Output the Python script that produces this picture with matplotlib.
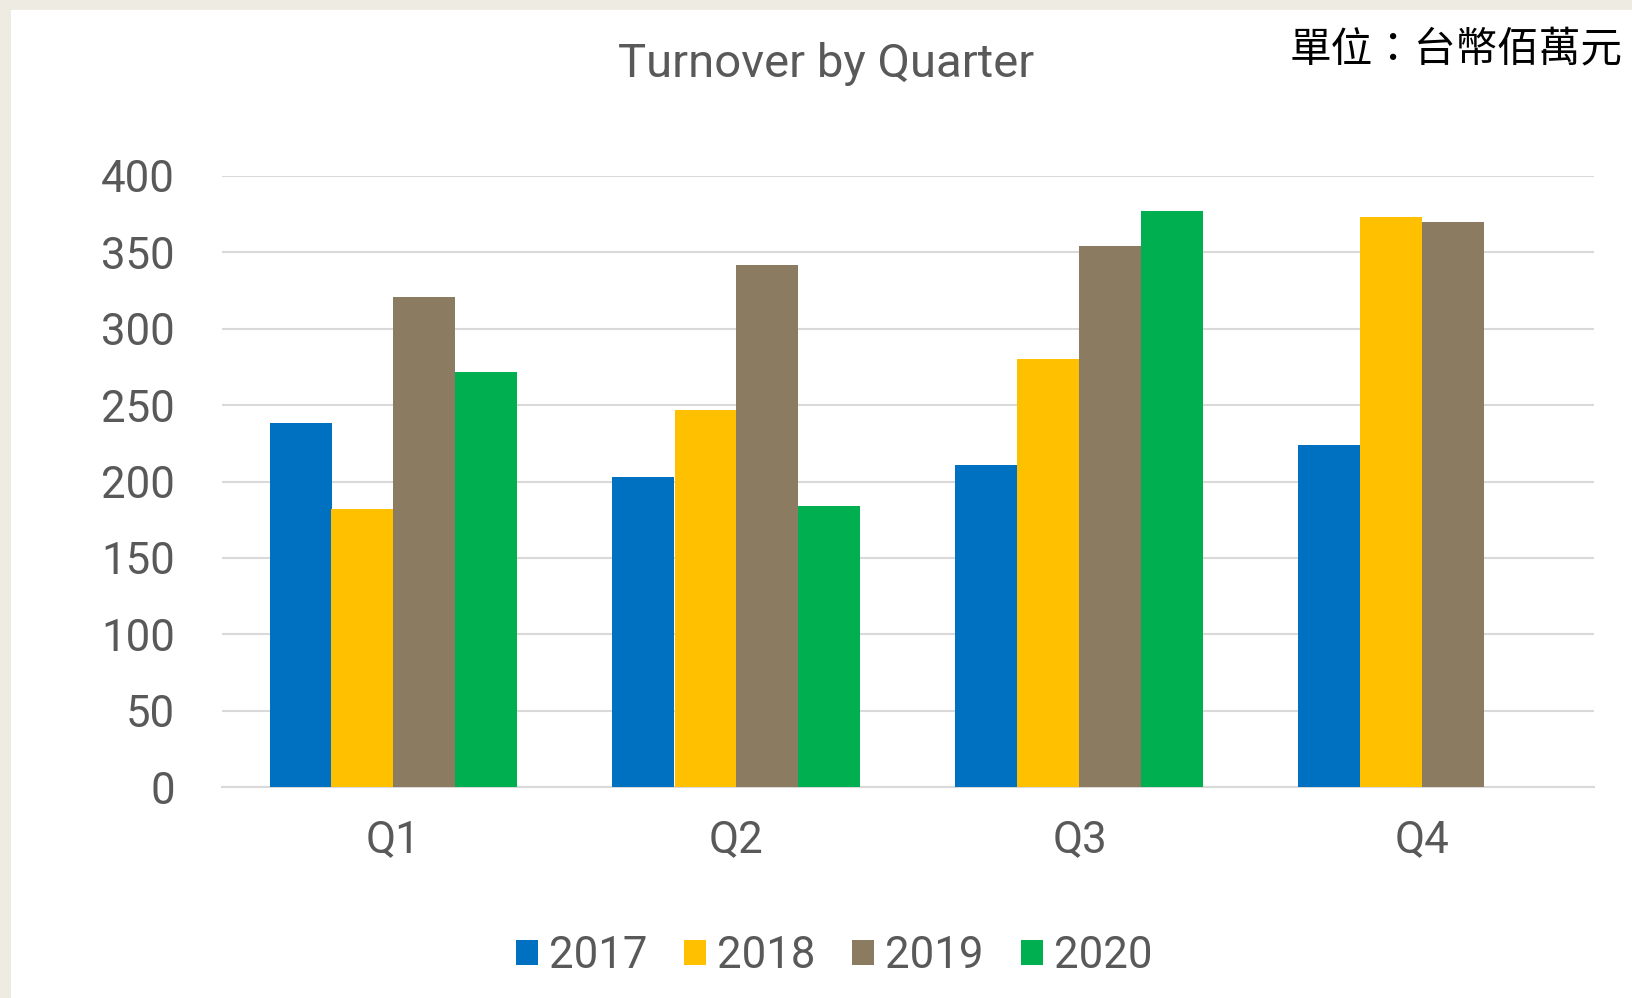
import numpy as np
import matplotlib
matplotlib.use("Agg")
import matplotlib.pyplot as plt
from matplotlib.patches import Rectangle

# values (NT$ million)
quarters = ["Q1", "Q2", "Q3", "Q4"]
years = ["2017", "2018", "2019", "2020"]
v2017 = [238, 203, 211, 224]
v2018 = [182, 247, 280, 373]
v2019 = [321, 342, 354, 370]
v2020 = [272, 184, 377, np.nan]
colors = ["#0070C0", "#FFC000", "#8A7B61", "#00B050"]
yticks = [0, 50, 100, 150, 200, 250, 300, 350, 400]

W, H = 1633, 998
fig = plt.figure(figsize=(W / 100, H / 100), dpi=100)
fig.patch.set_facecolor("#EEEBE3")
# white chart panel
fig.patches.append(Rectangle((11 / W, 0), 1 - 11 / W, 1 - 10 / H,
                             transform=fig.transFigure, facecolor="white",
                             edgecolor="none", zorder=-10))

ax = fig.add_axes([222 / W, (H - 787) / H, (1594 - 222) / W, (787 - 176) / H])
ax.set_facecolor("none")

font = "Roboto"
grey = "#595959"
x = np.arange(len(quarters))
w = 62 / 343
series = [v2017, v2018, v2019, v2020]
for i, (vals, yr) in enumerate(zip(series, years)):
    ax.bar(x + (i - 1.5) * w, vals, width=w, color=colors[i], label=yr, zorder=3)

ax.set_xlim(-0.5, 3.5)
ax.set_ylim(0, 400)
ax.set_yticks(yticks)
ax.set_xticks(x)
ax.set_xticklabels(quarters)
ax.yaxis.grid(True, color="#D9D9D9", linewidth=1.5, zorder=0)
ax.set_axisbelow(True)
for s in ["top", "right", "left"]:
    ax.spines[s].set_visible(False)
ax.spines["bottom"].set_color("#D9D9D9")
ax.spines["bottom"].set_linewidth(1.5)
ax.tick_params(axis="both", length=0, labelcolor=grey, labelsize=31.5)
ax.tick_params(axis="y", pad=34)
ax.tick_params(axis="x", pad=23)
for lab in ax.get_xticklabels() + ax.get_yticklabels():
    lab.set_fontfamily(font)

fig.text(826 / W, 1 - 77 / H, "Turnover by Quarter", ha="center", va="baseline",
         fontsize=34, color=grey, fontfamily=font)
fig.text(1623 / W, 1 - 50 / H, "單位：台幣佰萬元", ha="right", va="center",
         fontsize=30, color="black", fontfamily=["Noto Sans CJK TC", "DejaVu Sans"])

leg = fig.legend(loc="center", bbox_to_anchor=(834 / W, 1 - 956 / H), ncol=4,
                 frameon=False, handlelength=0.5, handleheight=0.5,
                 handletextpad=0.25, columnspacing=0.85,
                 prop={"family": font, "size": 31.5})
for t in leg.get_texts():
    t.set_color(grey)

fig.savefig("out.png", dpi=100, facecolor=fig.get_facecolor())
